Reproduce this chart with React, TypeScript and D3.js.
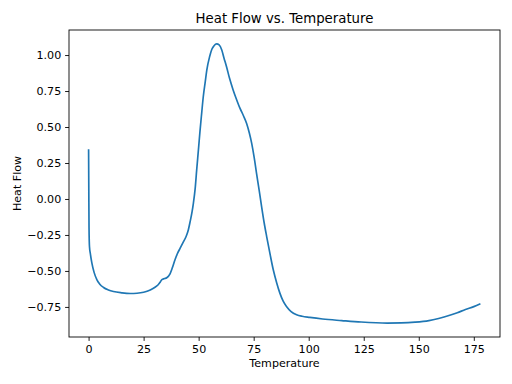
import React, { useRef, useEffect } from "react";
import * as d3 from "d3";

// values
const temperature = [
  0, 0.1, 0.2, 0.4, 0.8, 1.5, 2.5, 3.8, 5, 6.8, 9, 11.3, 15, 18.9, 22, 25, 28,
  30, 31.5, 32.5, 33.3, 34.5, 35.5, 37, 38, 39.3, 40.5, 41.6, 43, 44.3, 45.3,
  46.1, 47, 47.6, 48.4, 49.1, 50, 50.6, 51.4, 52.1, 53, 53.7, 55, 56, 57, 58.2,
  59.3, 60.5, 61.5, 62.7, 64, 65.7, 67, 68.8, 70.3, 71.8, 73, 74.1, 75.2, 76.3,
  77.5, 78.6, 79.7, 80.9, 82.4, 83.9, 85.4, 86.9, 88.4, 89.9, 92, 94.5, 97,
  100.5, 106.3, 115, 123.8, 135.7, 142, 148.3, 154.6, 159, 163.7, 167.5, 171.2,
  175, 178,
];

const heatFlow = [
  0.345, 0.05, -0.2, -0.33, -0.38, -0.446, -0.51, -0.562, -0.59, -0.615, -0.632,
  -0.643, -0.652, -0.657, -0.655, -0.648, -0.632, -0.615, -0.598, -0.578, -0.56,
  -0.553, -0.547, -0.52, -0.48, -0.42, -0.375, -0.342, -0.3, -0.261, -0.215,
  -0.16, -0.09, -0.03, 0.07, 0.2, 0.36, 0.47, 0.6, 0.71, 0.815, 0.895, 0.99,
  1.04, 1.065, 1.077, 1.07, 1.035, 0.98, 0.917, 0.84, 0.756, 0.7, 0.629, 0.58,
  0.525, 0.46, 0.386, 0.29, 0.178, 0.06, -0.053, -0.16, -0.261, -0.38, -0.492,
  -0.58, -0.654, -0.71, -0.747, -0.782, -0.804, -0.815, -0.823, -0.834, -0.845,
  -0.855, -0.862, -0.861, -0.856, -0.845, -0.83, -0.81, -0.79, -0.768, -0.748,
  -0.728,
];

const xTicks = [0, 25, 50, 75, 100, 125, 150, 175];
const yTicks = [-0.75, -0.5, -0.25, 0, 0.25, 0.5, 0.75, 1.0];

const width = 512;
const height = 384;
const margin = { top: 30, right: 12, bottom: 47, left: 69 };
const font = "DejaVu Sans, sans-serif";

const App = () => {
  const svgRef = useRef<SVGSVGElement>(null);

  useEffect(() => {
    const svg = d3.select(svgRef.current);
    svg.selectAll("*").remove();

    const x0 = d3.min(temperature)!;
    const x1 = d3.max(temperature)!;
    const y0 = d3.min(heatFlow)!;
    const y1 = d3.max(heatFlow)!;
    const xPad = (x1 - x0) * 0.05;
    const yPad = (y1 - y0) * 0.05;

    const x = d3
      .scaleLinear()
      .domain([x0 - xPad, x1 + xPad])
      .range([margin.left, width - margin.right]);
    const y = d3
      .scaleLinear()
      .domain([y0 - yPad, y1 + yPad])
      .range([height - margin.bottom, margin.top]);

    const pts = temperature.map((t, i) => [t, heatFlow[i]] as [number, number]);

    const line = d3
      .line<[number, number]>()
      .x((d) => x(d[0]))
      .y((d) => y(d[1]))
      .curve(d3.curveMonotoneX);

    svg
      .append("path")
      .datum(pts)
      .attr("fill", "none")
      .attr("stroke", "#1f77b4")
      .attr("stroke-width", 1.67)
      .attr("stroke-linejoin", "round")
      .attr("d", line);

    const xAxis = svg
      .append("g")
      .attr("transform", `translate(0,${height - margin.bottom})`)
      .call(
        d3
          .axisBottom(x)
          .tickValues(xTicks)
          .tickFormat(d3.format("d"))
          .tickSize(3.9)
          .tickPadding(3.9)
          .tickSizeOuter(0)
      );

    const yAxis = svg
      .append("g")
      .attr("transform", `translate(${margin.left},0)`)
      .call(
        d3
          .axisLeft(y)
          .tickValues(yTicks)
          .tickFormat(d3.format(".2f"))
          .tickSize(3.9)
          .tickPadding(3.9)
          .tickSizeOuter(0)
      );

    [xAxis, yAxis].forEach((a) => {
      a.select(".domain").remove();
      a.selectAll("line").attr("stroke", "#000").attr("stroke-width", 0.89);
      a.selectAll("text")
        .attr("fill", "#000")
        .style("font-family", font)
        .style("font-size", "11.1px");
    });

    // spines
    svg
      .append("rect")
      .attr("x", margin.left)
      .attr("y", margin.top)
      .attr("width", width - margin.left - margin.right)
      .attr("height", height - margin.top - margin.bottom)
      .attr("fill", "none")
      .attr("stroke", "#000")
      .attr("stroke-width", 0.89);

    svg
      .append("text")
      .attr("x", (margin.left + width - margin.right) / 2)
      .attr("y", 23)
      .attr("text-anchor", "middle")
      .style("font-family", font)
      .style("font-size", "13.3px")
      .text("Heat Flow vs. Temperature");

    svg
      .append("text")
      .attr("x", (margin.left + width - margin.right) / 2)
      .attr("y", 367)
      .attr("text-anchor", "middle")
      .style("font-family", font)
      .style("font-size", "11.1px")
      .text("Temperature");

    svg
      .append("text")
      .attr("transform", `translate(21,${(margin.top + height - margin.bottom) / 2}) rotate(-90)`)
      .attr("text-anchor", "middle")
      .style("font-family", font)
      .style("font-size", "11.1px")
      .text("Heat Flow");
  }, []);

  return (
    <svg
      ref={svgRef}
      width={width}
      height={height}
      style={{ position: "absolute", left: 0, top: 0, background: "#fff" }}
    />
  );
};

export default App;
